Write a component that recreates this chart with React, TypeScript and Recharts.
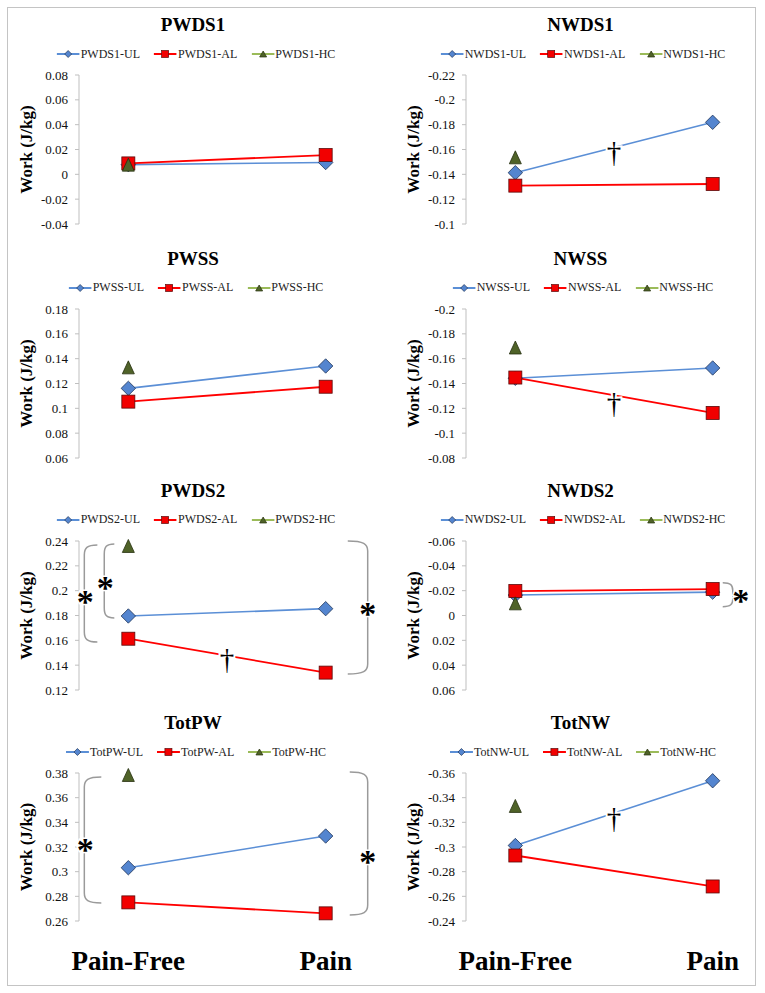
import React from 'react'
import { LineChart, Line, XAxis, YAxis, ReferenceArea, ReferenceDot } from 'recharts'

const FONT = "'Liberation Serif', 'Times New Roman', serif"

// categories on the x axis
const categories = ['Pain-Free', 'Pain']
const categoryX = [0, 1]

// series values (HC only has a pain-free value)
const pwds1UL = [0.0078, 0.0095]
const pwds1AL = [0.0088, 0.0155]
const pwds1HC = [0.0078, null]

const nwds1UL = [-0.1413, -0.1819]
const nwds1AL = [-0.1309, -0.1322]
const nwds1HC = [-0.1537, null]

const pwssUL = [0.1161, 0.1341]
const pwssAL = [0.1054, 0.1174]
const pwssHC = [0.133, null]

const nwssUL = [-0.1442, -0.1525]
const nwssAL = [-0.1448, -0.1163]
const nwssHC = [-0.169, null]

const pwds2UL = [0.1796, 0.1855]
const pwds2AL = [0.1613, 0.134]
const pwds2HC = [0.236, null]

const nwds2UL = [-0.0165, -0.0188]
const nwds2AL = [-0.0197, -0.0213]
const nwds2HC = [-0.0098, null]

const totpwUL = [0.3032, 0.3289]
const totpwAL = [0.2751, 0.2662]
const totpwHC = [0.3784, null]

const totnwUL = [-0.3012, -0.3537]
const totnwAL = [-0.2931, -0.268]
const totnwHC = [-0.3333, null]

// y tick values
const pwds1Ticks = [-0.04, -0.02, 0, 0.02, 0.04, 0.06, 0.08]
const nwds1Ticks = [-0.22, -0.2, -0.18, -0.16, -0.14, -0.12, -0.1]
const pwssTicks = [0.06, 0.08, 0.1, 0.12, 0.14, 0.16, 0.18]
const nwssTicks = [-0.2, -0.18, -0.16, -0.14, -0.12, -0.1, -0.08]
const pwds2Ticks = [0.12, 0.14, 0.16, 0.18, 0.2, 0.22, 0.24]
const nwds2Ticks = [-0.06, -0.04, -0.02, 0, 0.02, 0.04, 0.06]
const totpwTicks = [0.26, 0.28, 0.3, 0.32, 0.34, 0.36, 0.38]
const totnwTicks = [-0.36, -0.34, -0.32, -0.3, -0.28, -0.26, -0.24]

const UL_LINE = '#5b8fd6'
const UL_FILL = '#5485cf'
const UL_EDGE = '#1f3558'
const AL_LINE = '#ff0000'
const AL_FILL = '#f20000'
const AL_EDGE = '#5a0a0a'
const HC_LINE = '#9bbb59'
const HC_FILL = '#4f6228'
const HC_EDGE = '#26300f'
const BRACKET = '#9a9a9a'

interface Bracket { x1: number; x2: number; y1: number; y2: number; side: 'left' | 'right' }
interface Mark { x: number; y: number; glyph: '*' | '†' }
interface PanelCfg {
  title: string
  ul: (number | null)[]
  al: (number | null)[]
  hc: (number | null)[]
  ticks: number[]
  reversed: boolean
  brackets: Bracket[]
  marks: Mark[]
}

const panels: PanelCfg[] = [
  { title: 'PWDS1', ul: pwds1UL, al: pwds1AL, hc: pwds1HC, ticks: pwds1Ticks, reversed: false, brackets: [], marks: [] },
  { title: 'NWDS1', ul: nwds1UL, al: nwds1AL, hc: nwds1HC, ticks: nwds1Ticks, reversed: true, brackets: [],
    marks: [{ x: 0.5, y: -0.1588, glyph: '†' }] },
  { title: 'PWSS', ul: pwssUL, al: pwssAL, hc: pwssHC, ticks: pwssTicks, reversed: false, brackets: [], marks: [] },
  { title: 'NWSS', ul: nwssUL, al: nwssAL, hc: nwssHC, ticks: nwssTicks, reversed: true, brackets: [],
    marks: [{ x: 0.5, y: -0.1252, glyph: '†' }] },
  { title: 'PWDS2', ul: pwds2UL, al: pwds2AL, hc: pwds2HC, ticks: pwds2Ticks, reversed: false,
    brackets: [
      { x1: -0.223, x2: -0.157, y1: 0.1587, y2: 0.2368, side: 'left' },
      { x1: -0.122, x2: -0.071, y1: 0.178, y2: 0.2376, side: 'left' },
      { x1: 1.112, x2: 1.213, y1: 0.1329, y2: 0.24, side: 'right' },
    ],
    marks: [
      { x: -0.218, y: 0.1949, glyph: '*' },
      { x: -0.117, y: 0.2062, glyph: '*' },
      { x: 1.213, y: 0.1852, glyph: '*' },
      { x: 0.5, y: 0.1458, glyph: '†' },
    ] },
  { title: 'NWDS2', ul: nwds2UL, al: nwds2AL, hc: nwds2HC, ticks: nwds2Ticks, reversed: true,
    brackets: [{ x1: 1.051, x2: 1.102, y1: -0.0264, y2: -0.0071, side: 'right' }],
    marks: [{ x: 1.142, y: -0.0157, glyph: '*' }] },
  { title: 'TotPW', ul: totpwUL, al: totpwAL, hc: totpwHC, ticks: totpwTicks, reversed: false,
    brackets: [
      { x1: -0.223, x2: -0.137, y1: 0.2746, y2: 0.3768, side: 'left' },
      { x1: 1.122, x2: 1.213, y1: 0.2649, y2: 0.3808, side: 'right' },
    ],
    marks: [
      { x: -0.218, y: 0.3216, glyph: '*' },
      { x: 1.213, y: 0.3119, glyph: '*' },
    ] },
  { title: 'TotNW', ul: totnwUL, al: totnwAL, hc: totnwHC, ticks: totnwTicks, reversed: true, brackets: [],
    marks: [{ x: 0.5, y: -0.324, glyph: '†' }] },
]

const rowTops = [75, 308.5, 540.5, 773]

const fmt = (v: number) => String(Number(v.toFixed(2)))

const diamond = (cx: number, cy: number, r: number) =>
  `M${cx},${cy - r}L${cx + r},${cy}L${cx},${cy + r}L${cx - r},${cy}Z`
const triangle = (cx: number, cy: number, w: number, h: number) =>
  `M${cx},${cy - h / 2}L${cx + w / 2},${cy + h / 2}L${cx - w / 2},${cy + h / 2}Z`

const makeDot = (kind: 'ul' | 'al' | 'hc') => (props: any) => {
  const { cx, cy, index, value } = props
  if (cx == null || cy == null || value == null || Number.isNaN(cy)) return <g key={`${kind}-${index}`} />
  if (kind === 'ul') return <path key={`ul-${index}`} d={diamond(cx, cy, 7.2)} fill={UL_FILL} stroke={UL_EDGE} strokeWidth={0.8} />
  if (kind === 'al') return <rect key={`al-${index}`} x={cx - 6.5} y={cy - 6.5} width={13} height={13} fill={AL_FILL} stroke={AL_EDGE} strokeWidth={0.8} />
  return <path key={`hc-${index}`} d={triangle(cx, cy, 12, 13)} fill={HC_FILL} stroke={HC_EDGE} strokeWidth={0.8} />
}

const bracketShape = (side: 'left' | 'right') => (props: any) => {
  const { x, y, width, height } = props
  const ry = Math.min(10, height / 3)
  let d: string
  if (side === 'left') {
    d = `M${x + width},${y} C${x + width * 0.2},${y} ${x},${y + ry * 0.3} ${x},${y + ry} L${x},${y + height - ry} C${x},${y + height - ry * 0.3} ${x + width * 0.2},${y + height} ${x + width},${y + height}`
  } else {
    const xr = x + width
    d = `M${x},${y} C${xr - width * 0.2},${y} ${xr},${y + ry * 0.3} ${xr},${y + ry} L${xr},${y + height - ry} C${xr},${y + height - ry * 0.3} ${xr - width * 0.2},${y + height} ${x},${y + height}`
  }
  return <path d={d} fill="none" stroke={BRACKET} strokeWidth={1.5} />
}

const markShape = (glyph: '*' | '†') => (props: any) => {
  const { cx, cy } = props
  if (glyph === '*') {
    return (
      <text x={cx} y={cy + 16} textAnchor="middle" fontFamily={FONT} fontWeight="bold" fontSize={34}
        fill="#000" stroke="#fff" strokeWidth={3} paintOrder="stroke">*</text>
    )
  }
  return (
    <text x={cx} y={cy + 11} textAnchor="middle" fontFamily={FONT} fontSize={29}
      fill="#000" stroke="#fff" strokeWidth={4} paintOrder="stroke">†</text>
  )
}

const renderYLabel = (props: any) => {
  const vb = props.viewBox || {}
  const x = vb.x + vb.width - 53
  const y = vb.y + vb.height / 2
  return (
    <text x={x} y={y} transform={`rotate(-90 ${x} ${y})`} textAnchor="middle" dominantBaseline="central"
      fontFamily={FONT} fontWeight="bold" fontSize={17} fill="#000">Work (J/kg)</text>
  )
}

function LegendItem({ kind, label }: { kind: 'ul' | 'al' | 'hc'; label: string }) {
  const line = kind === 'ul' ? UL_LINE : kind === 'al' ? AL_LINE : HC_LINE
  return (
    <div style={{ display: 'flex', alignItems: 'center' }}>
      <svg width={23} height={12}>
        <line x1={0} y1={6} x2={23} y2={6} stroke={line} strokeWidth={2} />
        {kind === 'ul' && <path d={diamond(11.5, 6, 3.5)} fill={UL_FILL} stroke={UL_EDGE} strokeWidth={0.7} />}
        {kind === 'al' && <rect x={8} y={2.5} width={7} height={7} fill={AL_FILL} stroke={AL_EDGE} strokeWidth={0.7} />}
        {kind === 'hc' && <path d={triangle(11.5, 6, 7, 6)} fill={HC_FILL} stroke={HC_EDGE} strokeWidth={0.7} />}
      </svg>
      <span style={{ marginLeft: 1 }}>{label}</span>
    </div>
  )
}

function Panel({ cfg, idx }: { cfg: PanelCfg; idx: number }) {
  const col = idx % 2
  const row = Math.floor(idx / 2)
  const colLeft = col === 0 ? 0 : 383
  const chartW = col === 0 ? 383 : 382
  const axisX = col === 0 ? 79 : 83
  const plotW = 296
  const yAxisW = 60
  const plotTop = rowTops[row]
  const plotH = row === 3 ? 148 : 149
  const isBottom = row === 3
  const mTop = 12
  const xAxisH = isBottom ? 60 : 0
  const mBottom = 12
  const chartH = mTop + plotH + xAxisH + mBottom
  const titleCx = colLeft + (col === 0 ? 193 : 197.5)
  const legendCx = colLeft + (col === 0 ? 196 : 200)

  const data = categoryX.map((x, i) => ({ x, ul: cfg.ul[i], al: cfg.al[i], hc: cfg.hc[i] }))

  return (
    <>
      <div style={{ position: 'absolute', left: titleCx - 100, width: 200, top: plotTop - 63, height: 26, lineHeight: '26px',
        textAlign: 'center', fontFamily: FONT, fontWeight: 'bold', fontSize: 19, color: '#000' }}>
        {cfg.title}
      </div>
      <div style={{ position: 'absolute', left: legendCx, top: plotTop - 29, height: 16, transform: 'translateX(-50%)',
        display: 'flex', alignItems: 'center', gap: 14, whiteSpace: 'nowrap', fontFamily: FONT, fontSize: 12, color: '#222' }}>
        <LegendItem kind="ul" label={`${cfg.title}-UL`} />
        <LegendItem kind="al" label={`${cfg.title}-AL`} />
        <LegendItem kind="hc" label={`${cfg.title}-HC`} />
      </div>
      <div style={{ position: 'absolute', left: colLeft, top: plotTop - mTop }}>
        <LineChart width={chartW} height={chartH} data={data}
          margin={{ top: mTop, right: chartW - axisX - plotW, bottom: mBottom, left: axisX - yAxisW }}>
          <XAxis type="number" dataKey="x" domain={[-0.25, 1.25]} ticks={categoryX} interval={0} hide={!isBottom}
            height={xAxisH} axisLine={false} tickLine={false} tickSize={0} tickMargin={30}
            tickFormatter={(v: number) => categories[v] ?? ''}
            tick={{ fontSize: 27, fontWeight: 'bold', fill: '#000', fontFamily: FONT }} />
          <YAxis type="number" domain={[cfg.ticks[0], cfg.ticks[cfg.ticks.length - 1]]} ticks={cfg.ticks} interval={0}
            reversed={cfg.reversed} width={yAxisW} tickFormatter={fmt}
            tick={{ fontSize: 13, fill: '#111', fontFamily: FONT }} tickSize={4} tickMargin={7}
            axisLine={{ stroke: '#bfbfbf' }} tickLine={{ stroke: '#bfbfbf' }}
            label={{ content: renderYLabel }} />
          {cfg.brackets.map((b, i) => (
            <ReferenceArea key={`b${i}`} x1={b.x1} x2={b.x2} y1={b.y1} y2={b.y2} ifOverflow="visible" shape={bracketShape(b.side)} />
          ))}
          <Line type="linear" dataKey="ul" stroke={UL_LINE} strokeWidth={1.6} dot={makeDot('ul')} activeDot={false} isAnimationActive={false} />
          <Line type="linear" dataKey="al" stroke={AL_LINE} strokeWidth={1.8} dot={makeDot('al')} activeDot={false} isAnimationActive={false} />
          <Line type="linear" dataKey="hc" stroke={HC_LINE} strokeWidth={1.8} dot={makeDot('hc')} activeDot={false} isAnimationActive={false} />
          {cfg.marks.map((m, i) => (
            <ReferenceDot key={`m${i}`} x={m.x} y={m.y} ifOverflow="visible" shape={markShape(m.glyph)} />
          ))}
        </LineChart>
      </div>
    </>
  )
}

export default function App() {
  return (
    <div style={{ position: 'absolute', left: 0, top: 0, width: 765, height: 993, background: '#fff', overflow: 'hidden' }}>
      <div style={{ position: 'absolute', left: 7, top: 7, width: 747, height: 977, border: '1px solid #c4c4c4' }} />
      {panels.map((p, i) => (
        <Panel key={p.title} cfg={p} idx={i} />
      ))}
    </div>
  )
}
